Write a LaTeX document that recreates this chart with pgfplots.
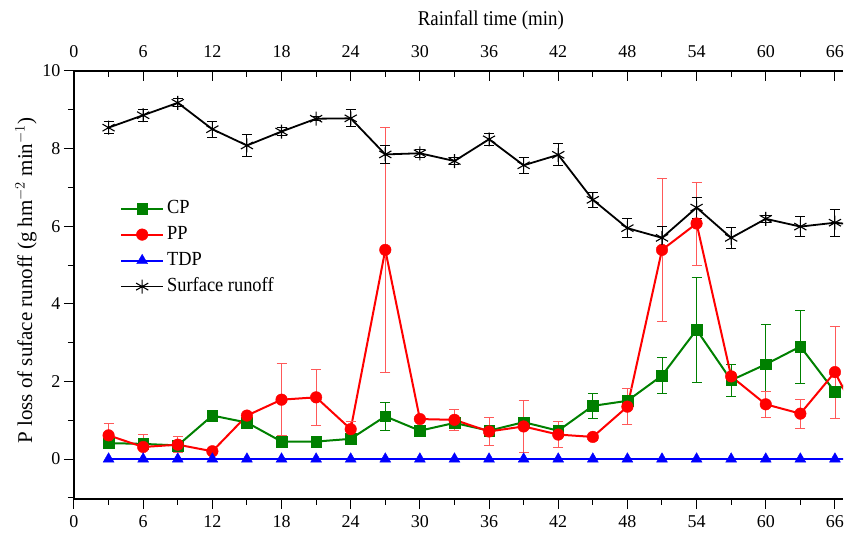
\documentclass[border=0pt]{standalone}
\usepackage{fontspec}
\setmainfont{Liberation Serif}
\usepackage{graphicx}
\usepackage{pgfplots}
\usepackage{pgfplotstable}
\pgfplotsset{compat=1.18}
\definecolor{cpgreen}{RGB}{0,128,0}
\definecolor{ppred}{RGB}{255,0,0}
\definecolor{tdpblue}{RGB}{0,0,255}

\pgfplotstableread{
x y e
3 0.41 0.08
6 0.39 0.08
9 0.35 0.06
12 1.12 0.05
15 0.94 0.08
18 0.45 0.05
21 0.45 0.05
24 0.52 0.06
27 1.10 0.35
30 0.73 0.06
33 0.93 0.08
36 0.73 0.06
39 0.95 0.08
42 0.73 0.06
45 1.37 0.32
48 1.50 0.12
51 2.15 0.47
54 3.33 1.35
57 2.03 0.42
60 2.44 1.04
63 2.90 0.94
66 1.73 0.08
69 2.40 0
}\cpdata

\pgfplotstableread{
x y e
3 0.61 0.31
6 0.31 0.33
9 0.37 0.21
12 0.20 0.03
15 1.12 0.06
18 1.53 0.93
21 1.59 0.73
24 0.77 0.20
27 5.39 3.15
30 1.03 0.05
33 1.01 0.27
36 0.71 0.37
39 0.84 0.68
42 0.63 0.33
45 0.57 0.10
48 1.35 0.47
51 5.39 1.85
54 6.07 1.07
57 2.13 0.10
60 1.41 0.33
63 1.17 0.37
66 2.24 1.19
69 0.50 0
}\ppdata

\pgfplotstableread{
x y
3 0
6 0
9 0
12 0
15 0
18 0
21 0
24 0
27 0
30 0
33 0
36 0
39 0
42 0
45 0
48 0
51 0
54 0
57 0
60 0
63 0
66 0
69 0
}\tdpdata

\pgfplotstableread{
x y e
3 8.54 0.15
6 8.86 0.15
9 9.18 0.10
12 8.50 0.20
15 8.08 0.28
18 8.44 0.10
21 8.77 0.05
24 8.78 0.22
27 7.85 0.24
30 7.88 0.10
33 7.68 0.10
36 8.24 0.15
39 7.57 0.20
42 7.84 0.28
45 6.68 0.20
48 5.95 0.25
51 5.70 0.30
54 6.48 0.27
57 5.70 0.28
60 6.19 0.10
63 5.99 0.25
66 6.09 0.35
69 6.00 0
}\srdata

\newcommand{\cond}[1]{\scalebox{0.92}[1]{#1}}

\begin{document}
\begin{tikzpicture}
\pgfplotsset{
  common/.style={
    scale only axis, width=769pt, height=428pt,
    xmin=0, xmax=66.7, ymin=-1.03, ymax=10,
    xtick={0,6,...,66}, minor xtick={3,9,...,63},
    major tick length=10pt, minor tick length=6pt,
    every tick/.style={black, line width=1pt},
    axis line style={line width=1.1pt},
    tick label style={font=\fontsize{18}{20}\selectfont},
    label style={font=\fontsize{21}{23}\selectfont},
    /pgf/number format/assume math mode=true,
  },
}
\begin{axis}[common,
  axis x line*=bottom, axis y line*=left,
  tick align=outside,
  ytick={0,2,...,10}, minor ytick={-1,1,3,5,7,9},
  xticklabel style={yshift=-3pt},
  ylabel={P loss of suface runoff (g hm$^{-2}$ min$^{-1}$)},
  ylabel style={at={(axis description cs:-0.0624,0.51)}, anchor=center},
  legend style={draw=none, fill=none, at={(axis description cs:0.0598,0.70)}, anchor=north west,
    inner sep=0pt, font=\fontsize{20}{22}\selectfont, row sep=8pt,
    nodes={inner sep=0pt, text height=14pt, text depth=4pt},
    column sep=3pt},
  legend cell align=left,
  legend image code/.code={\draw[mark repeat=2, mark phase=2] plot coordinates {(0pt,0pt) (21pt,0pt) (42pt,0pt)};},
  error bars/y dir=both, error bars/y explicit,
]
\addplot[cpgreen, line width=2pt, mark=square*, mark size=5.3pt, mark options={solid, line width=0.4pt},
  error bars/.cd, error bar style={cpgreen, line width=0.8pt}, error mark options={rotate=90, mark size=5pt, cpgreen, line width=0.8pt}]
  table[x=x, y=y, y error=e] {\cpdata};
\addlegendentry{\cond{CP}}
\addplot[ppred, line width=2pt, mark=*, mark size=5.8pt, mark options={solid, line width=0.4pt},
  error bars/.cd, error bar style={ppred!65, line width=0.8pt}, error mark options={rotate=90, mark size=5pt, ppred!65, line width=0.8pt}]
  table[x=x, y=y, y error=e] {\ppdata};
\addlegendentry{\cond{PP}}
\addplot[tdpblue, line width=2pt, mark=triangle*, mark size=6.3pt, mark options={solid, line width=0.4pt}]
  table[x=x, y=y] {\tdpdata};
\addlegendentry{\cond{TDP}}
\addplot[black, line width=1.8pt, mark=asterisk, mark size=7pt, mark options={solid, line width=1.1pt},
  error bars/.cd, error bar style={black, line width=0.9pt}, error mark options={rotate=90, mark size=5pt, black, line width=0.9pt}]
  table[x=x, y=y, y error=e] {\srdata};
\addlegendentry{\cond{Surface runoff}}
\coordinate (ll) at (rel axis cs:0,0);
\end{axis}
\begin{axis}[common,
  axis x line*=top, axis y line=none,
  tick align=inside,
  xticklabel pos=top,
  xticklabel style={yshift=10pt},
  xlabel={\scalebox{0.9}[1]{Rainfall time (min)}},
  xlabel style={at={(axis description cs:0.542,1.119)}, anchor=center},
]
\addplot[draw=none] coordinates {(0,0)};
\end{axis}
\pgfresetboundingbox
\path (ll) ++(-74pt,-35pt) rectangle ++(859pt,534pt);
\end{tikzpicture}
\end{document}
